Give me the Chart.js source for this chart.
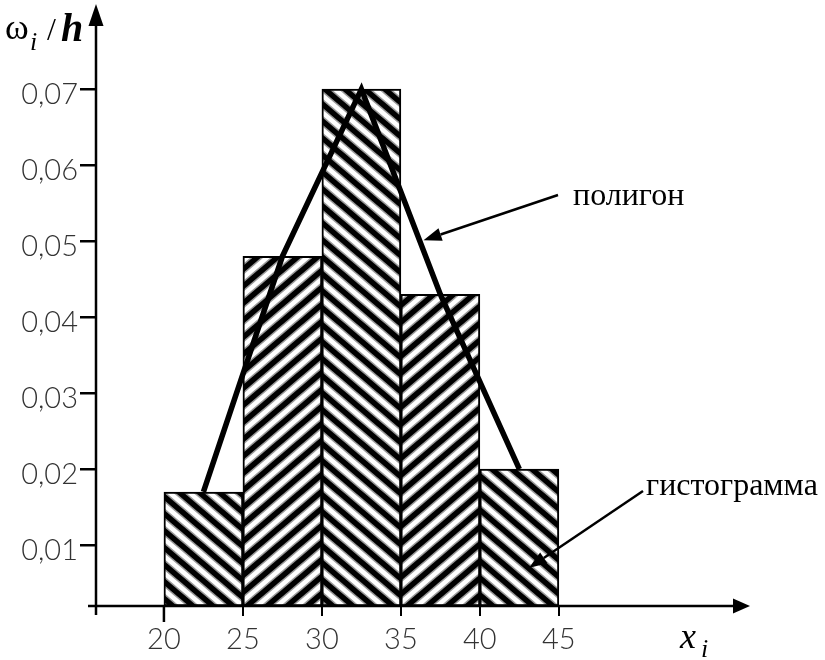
<!DOCTYPE html>
<html lang="ru">
<head>
    <meta charset="UTF-8">
    <title>Гистограмма и полигон</title>
    <script src="https://cdn.jsdelivr.net/npm/chart.js"></script>
    <style>
        body { margin: 0; background: #fff; }
        #wrap { width: 825px; height: 660px; }
    </style>
</head>
<body>
    <div id="wrap"><canvas id="chart" width="825" height="660"></canvas></div>

    <script>
        // Интервалы: середины, плотность частоты w_i / h
        const xMid = [22.5, 27.5, 32.5, 37.5, 42.5];
        const density = [0.017, 0.048, 0.070, 0.043, 0.020];
        const hatchDir = ['\\', '/', '\\', '/', '\\'];

        const xTicks = [20, 25, 30, 35, 40, 45];
        const yTicks = [0.01, 0.02, 0.03, 0.04, 0.05, 0.06, 0.07];
        const yTickLabels = ['0,01', '0,02', '0,03', '0,04', '0,05', '0,06', '0,07'];

        const Y_MIN = 0.002;

        const canvas = document.getElementById('chart');
        const ctx = canvas.getContext('2d');

        // штриховка столбцов
        function hatch(dir) {
            const W = 20, H = 17;
            const c = document.createElement('canvas');
            c.width = W; c.height = H;
            const g = c.getContext('2d');
            g.fillStyle = '#fff';
            g.fillRect(0, 0, W, H);
            const strokeAll = () => {
                for (const dx of [-W, 0, W]) {
                    g.beginPath();
                    if (dir === '/') {
                        g.moveTo(dx - W, 2 * H);
                        g.lineTo(dx + 2 * W, -H);
                    } else {
                        g.moveTo(dx - W, -H);
                        g.lineTo(dx + 2 * W, 2 * H);
                    }
                    g.stroke();
                }
            };
            g.strokeStyle = '#9a9a9a';
            g.lineWidth = 8.5;
            strokeAll();
            g.strokeStyle = '#000';
            g.lineWidth = 5.5;
            strokeAll();
            return ctx.createPattern(c, 'repeat');
        }

        function arrow(c, x1, y1, x2, y2, len, half) {
            const a = Math.atan2(y2 - y1, x2 - x1);
            const bx = x2 - len * Math.cos(a), by = y2 - len * Math.sin(a);
            c.beginPath();
            c.moveTo(x1, y1);
            c.lineTo(bx, by);
            c.stroke();
            c.beginPath();
            c.moveTo(x2, y2);
            c.lineTo(bx + half * Math.sin(a), by - half * Math.cos(a));
            c.lineTo(bx - half * Math.sin(a), by + half * Math.cos(a));
            c.closePath();
            c.fill();
        }

        const decorations = {
            id: 'decorations',
            afterDraw(chart) {
                const c = chart.ctx;
                const { left, bottom } = chart.chartArea;
                const { x, y } = chart.scales;
                c.save();
                c.strokeStyle = '#000';
                c.fillStyle = '#000';
                c.lineWidth = 2.5;

                // оси со стрелками
                arrow(c, left, bottom + 9, left, 4, 22, 7.5);
                arrow(c, left - 8, bottom, 750, bottom, 17, 7.5);

                // подписи осей
                c.textBaseline = 'alphabetic';
                c.textAlign = 'left';
                c.font = '36px "Liberation Serif"';
                c.fillText('ω', 5, 39);
                c.font = 'italic 26px "Liberation Serif"';
                c.fillText('i', 30, 50);
                c.font = '32px "Liberation Serif"';
                c.fillText('/', 47, 40);
                c.font = 'italic bold 40px "Liberation Serif"';
                c.fillText('h', 61, 41);

                c.font = 'italic 36px "Liberation Serif"';
                c.fillText('x', 680, 648);
                c.font = 'italic 26px "Liberation Serif"';
                c.fillText('i', 701, 657);

                // выноски
                c.font = '32px "Liberation Serif"';
                c.fillText('полигон', 573, 205);
                c.fillText('гистограмма', 646, 495);

                c.lineWidth = 2.5;
                const p2x = x.getPixelForValue(xMid[2]), p2y = y.getPixelForValue(density[2]);
                const p3x = x.getPixelForValue(xMid[3]), p3y = y.getPixelForValue(density[3]);
                const t = 0.736;
                arrow(c, 558, 195, p2x + (p3x - p2x) * t + 4, p2y + (p3y - p2y) * t, 18, 6.5);
                arrow(c, 643, 491, x.getPixelForValue(43.1), y.getPixelForValue(0.007), 18, 6.5);

                // длинная засечка у начала первого интервала
                c.lineWidth = 2.5;
                const x0 = x.getPixelForValue(xTicks[0]);
                c.beginPath();
                c.moveTo(x0, bottom);
                c.lineTo(x0, bottom + 16);
                c.stroke();

                c.restore();
            }
        };

        const tickFont = { family: 'Lato, "Open Sans", sans-serif', size: 29, weight: '300' };

        new Chart(ctx, {
            type: 'bar',
            data: {
                datasets: [
                    {
                        type: 'line',
                        label: 'полигон',
                        data: xMid.map((v, i) => ({ x: v, y: density[i] })),
                        borderColor: '#000',
                        borderWidth: 5.5,
                        pointRadius: 0,
                        tension: 0,
                        fill: false,
                        borderJoinStyle: 'miter',
                        order: 0
                    },
                    {
                        type: 'bar',
                        label: 'гистограмма',
                        data: xMid.map((v, i) => ({ x: v, y: density[i] })),
                        backgroundColor: hatchDir.map(hatch),
                        borderColor: '#000',
                        borderWidth: 2,
                        borderSkipped: false,
                        base: Y_MIN,
                        barPercentage: 1,
                        categoryPercentage: 1,
                        order: 1
                    }
                ]
            },
            options: {
                responsive: false,
                animation: false,
                layout: { padding: { left: 0, right: 90, top: 20, bottom: 0 } },
                plugins: {
                    legend: { display: false },
                    tooltip: { enabled: false }
                },
                scales: {
                    x: {
                        type: 'linear',
                        offset: false,
                        min: 15.7,
                        max: 56.15,
                        afterBuildTicks: s => { s.ticks = xTicks.map(v => ({ value: v })); },
                        afterFit: s => { s.height = 54; },
                        border: { display: false },
                        grid: { offset: false, drawOnChartArea: false, drawTicks: true, tickLength: 10, color: '#000', lineWidth: 2 },
                        ticks: { autoSkip: false, maxRotation: 0, padding: 6, color: '#333', font: tickFont, callback: v => String(v) }
                    },
                    y: {
                        min: Y_MIN,
                        max: 0.0791,
                        afterBuildTicks: s => { s.ticks = yTicks.map(v => ({ value: v })); },
                        afterFit: s => { s.width = 96; },
                        border: { display: false },
                        grid: { drawOnChartArea: false, drawTicks: true, tickLength: 16, color: '#000', lineWidth: 2.5 },
                        ticks: {
                            autoSkip: false,
                            padding: 2,
                            labelOffset: 5,
                            color: '#333',
                            font: tickFont,
                            callback: v => yTickLabels[yTicks.indexOf(v)] ?? ''
                        }
                    }
                }
            },
            plugins: [decorations]
        });
    </script>
</body>
</html>
